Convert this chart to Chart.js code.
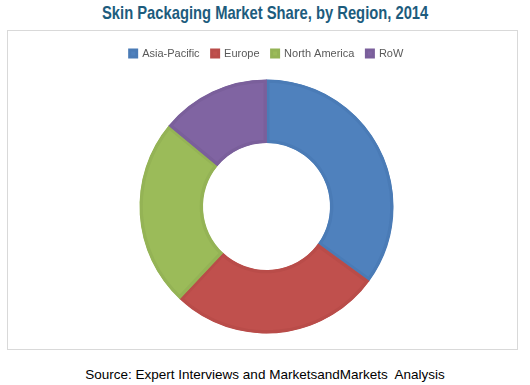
<!DOCTYPE html>
<html>
<head>
<meta charset="utf-8">
<script src="https://cdn.jsdelivr.net/npm/chart.js@4"></script>
<style>
  body { margin: 0; background: #fff; width: 530px; height: 385px; position: relative; overflow: hidden; }
  #titlewrap { position: absolute; left: 0; top: 2px; width: 530px; text-align: center; }
  #title { display: inline-block; transform-origin: center top;
    font-family: "Liberation Sans", Arial, sans-serif; font-weight: bold;
    font-size: 19px; color: #1D5C7D; white-space: nowrap; }
  #box { position: absolute; left: 7px; top: 30px; width: 509px; height: 318px; border: 1px solid #D9D9D9; }
  #source { position: absolute; left: 0; top: 367px; width: 530px; text-align: center;
    font-family: "Liberation Sans", Arial, sans-serif; font-size: 13.5px; color: #000; white-space: pre; }
</style>
</head>
<body>
<div id="titlewrap"><span id="title">Skin Packaging Market Share, by Region, 2014</span></div>
<div id="box"><canvas id="chart" width="509" height="318"></canvas></div>
<div id="source">Source: Expert Interviews and MarketsandMarkets  Analysis</div>
<script>
// data (share, %)
const regions = ['Asia-Pacific', 'Europe', 'North America', 'RoW']
const shares = [35, 27, 24, 14]

const fills = ['#4F81BD', '#C0504D', '#9BBB59', '#8064A2']
const edges = ['#4A7BB6', '#B94C49', '#94B355', '#7A5F9B']

// squeeze the title to the narrow width it has in the original
const t = document.getElementById('title')
t.style.transform = 'scaleX(' + (326 / t.offsetWidth) + ')'

new Chart(document.getElementById('chart'), {
  type: 'doughnut',
  data: {
    labels: regions,
    datasets: [{
      data: shares,
      backgroundColor: fills,
      borderColor: edges,
      borderWidth: 3,
      borderAlign: 'inner',
      radius: 127,
      cutout: '50%'
    }]
  },
  options: {
    responsive: false,
    animation: false,
    layout: { padding: { top: 5, bottom: 5, left: 8, right: 0 } },
    plugins: {
      legend: {
        position: 'top',
        labels: {
          boxWidth: 7,
          boxHeight: 7,
          padding: 12,
          color: '#595959',
          font: { family: 'Liberation Sans', size: 11 }
        }
      },
      tooltip: { enabled: false }
    }
  }
})
</script>
</body>
</html>
